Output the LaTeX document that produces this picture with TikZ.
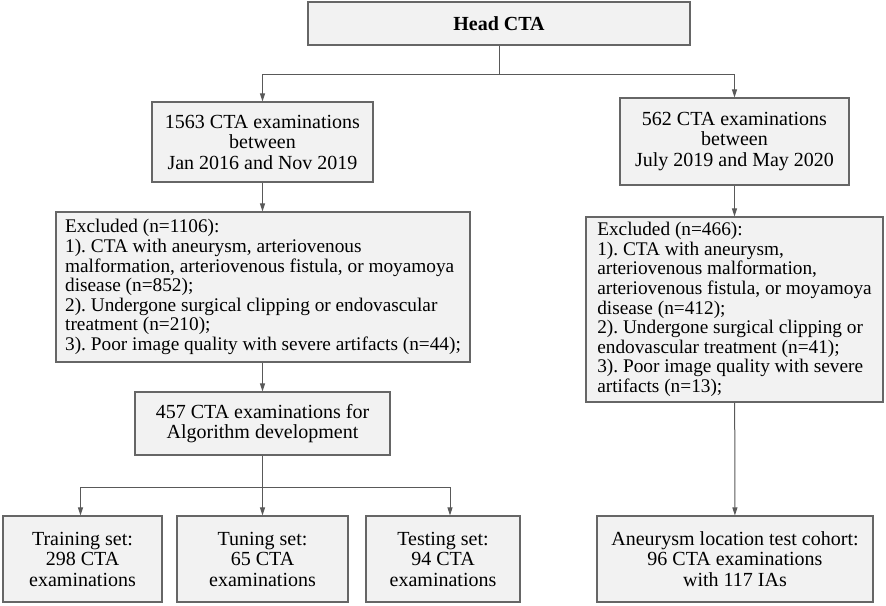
\documentclass[tikz,border=0pt]{standalone}
\usepackage{fontspec}
\setmainfont{Liberation Serif}
\usetikzlibrary{arrows.meta}
\frenchspacing
\begin{document}
\begin{tikzpicture}[
  x = 1pt,
  y = -1pt,
  box/.style = {
    draw = black!60,
    fill = black!5,
    line width = 1.2pt,
    inner sep = 0pt,
    align = center,
    font = \fontsize{20}{20.5}\selectfont
  },
  listbox/.style = {
    box,
    align = left,
    inner xsep = 7pt,
    font = \fontsize{19.3}{19.6}\selectfont
  },
  line/.style = {
    draw = black!65,
    line width = 1pt
  },
  arrow/.style = {
    line,
    -{Triangle[length = 8pt, width = 5pt]}
  }
]
  \useasboundingbox (0, 0) rectangle (886, 605);

  \node[box, minimum width = 382, minimum height = 43, font = \fontsize{20}{21}\selectfont\bfseries]
    (head) at (499, 23.5) {Head CTA};

  \node[box, minimum width = 221, minimum height = 80] (exam1) at (262.5, 142)
    {1563 CTA examinations\\ between\\ Jan 2016 and Nov 2019};
  \node[box, minimum width = 229, minimum height = 87] (exam2) at (734.5, 141.5)
    {562 CTA examinations\\ between\\ July 2019 and May 2020};

  \node[listbox, minimum width = 414, minimum height = 150] (excl1) at (263, 287)
    {Excluded (n=1106):\\
     1). CTA with aneurysm, arteriovenous\\
     malformation, arteriovenous fistula, or moyamoya\\
     disease (n=852);\\
     2). Undergone surgical clipping or endovascular\\
     treatment (n=210);\\
     3). Poor image quality with severe artifacts (n=44);};
  \node[listbox, minimum width = 297, minimum height = 185] (excl2) at (734.5, 309.5)
    {Excluded (n=466):\\
     1). CTA with aneurysm,\\
     arteriovenous malformation,\\
     arteriovenous fistula, or moyamoya\\
     disease (n=412);\\
     2). Undergone surgical clipping or\\
     endovascular treatment (n=41);\\
     3). Poor image quality with severe\\
     artifacts (n=13);};

  \node[box, minimum width = 255, minimum height = 63] (algo) at (262.5, 423.5)
    {457 CTA examinations for\\ Algorithm development};

  \node[box, minimum width = 159, minimum height = 86] (train) at (82.5, 559)
    {Training set:\\ 298 CTA\\ examinations};
  \node[box, minimum width = 171, minimum height = 86] (tune) at (262.5, 559)
    {Tuning set:\\ 65 CTA\\ examinations};
  \node[box, minimum width = 154, minimum height = 86] (test) at (443, 559)
    {Testing set:\\ 94 CTA\\ examinations};
  \node[box, minimum width = 276, minimum height = 86] (cohort) at (735, 559)
    {Aneurysm location test cohort:\\ 96 CTA examinations\\ with 117 IAs};

  \coordinate (fork) at (499, 74);
  \coordinate (split) at (262.5, 487);

  \draw[line] (head) -- (fork);
  \draw[arrow] (fork) -| (exam1);
  \draw[arrow] (fork) -| (exam2);

  \draw[arrow] (exam1) -- (exam1 |- excl1.north);
  \draw[arrow] (algo |- excl1.south) -- (algo);
  \draw[line] (algo) -- (split);
  \draw[arrow] (split) -- (tune);
  \draw[arrow] (split) -| ([xshift = -2pt]train.north);
  \draw[arrow] (split) -| ([xshift = 7pt]test.north);

  \draw[arrow] (exam2) -- (excl2);
  \draw[arrow] (excl2) -- (cohort);
\end{tikzpicture}
\end{document}
